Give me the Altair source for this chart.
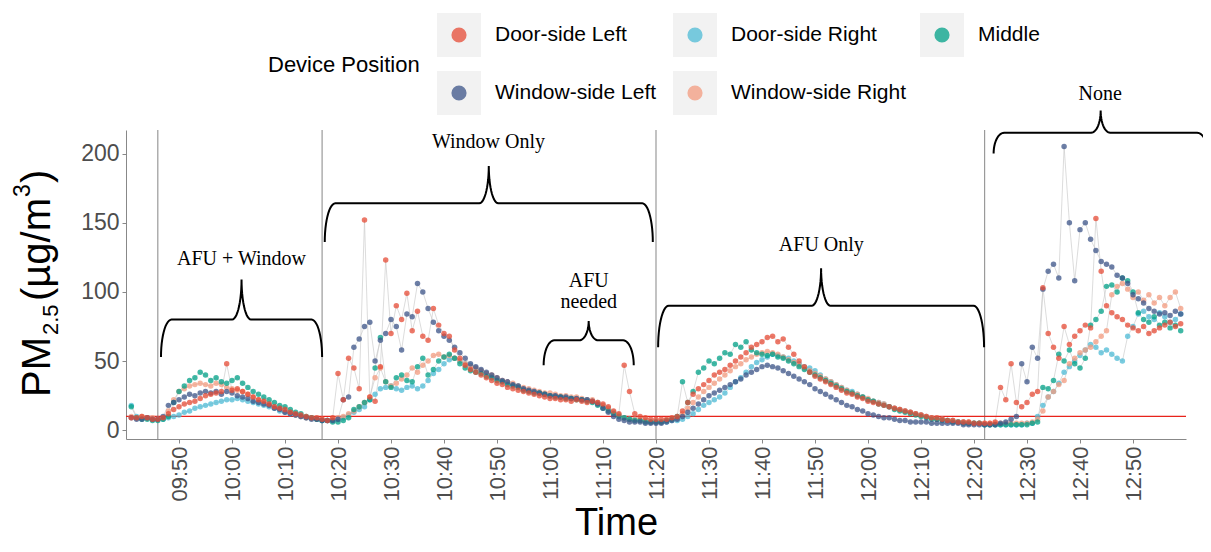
import altair as alt
import pandas as pd
import numpy as np

# ---------------- data ----------------
SERIES = ["Door-side Left", "Door-side Right", "Middle", "Window-side Left", "Window-side Right"]
COLORS = ["#E64B35", "#4DBBD5", "#00A087", "#3C5488", "#F39B7F"]

# sampling grid: minutes since midnight, 09:41 ... 12:59
TIME_MIN = list(range(581, 780))

DOOR_LEFT = [
    9, 9, 10, 9, 8,  8, 9, 12, 15, 17,  19, 20, 21, 23, 25,  26, 27, 28, 48, 29,
    30, 28, 26, 24, 22,  21, 19, 17, 16, 15,  13, 12, 11, 10, 9,  9, 8, 7, 9, 41,
    22, 52, 45, 30, 152,  24, 21, 46, 123, 70,  90, 80, 99, 72, 86,  68, 65, 88, 76, 70,
    68, 58, 52, 47, 44,  42, 40, 38, 36, 34,  33, 31, 30, 29, 28,  27, 26, 25, 24, 23,
    23, 22, 22, 21, 22,  21, 20, 21, 20, 19,  17, 14, 12, 47, 28,  12, 10, 9, 8, 8,
    8, 8, 9, 10, 14,  20, 26, 30, 33, 36,  40, 42, 44, 47, 50,  53, 56, 60, 62, 64,
    67, 68, 64, 66, 60,  55, 50, 46, 42, 39,  37, 35, 33, 31, 29,  27, 26, 24, 23, 21,
    20, 19, 18, 17, 16,  15, 14, 13, 12, 11,  10, 9, 9, 8, 7,  7, 6, 6, 6, 5,
    5, 5, 5, 6, 31,  22, 48, 20, 17, 20,  26, 28, 103, 70, 60,  52, 75, 62, 68, 72,
    76, 74, 153, 115, 90,  85, 82, 80, 76, 74,  72, 75, 70, 72, 74,  76, 78, 75, 77,
]
DOOR_RIGHT = [
    18, 10, 9, 9, 8,  8, 8, 9, 10, 11,  13, 14, 16, 17, 18,  19, 20, 21, 22, 22,
    23, 22, 21, 20, 19,  18, 17, 16, 14, 13,  12, 11, 10, 9, 9,  8, 7, 7, 7, 8,
    9, 11, 13, 15, 17,  22, 26, 30, 31, 32,  30, 29, 31, 32, 30,  32, 36, 41, 44, 48,
    51, 52, 50, 48, 47,  45, 43, 41, 39, 37,  35, 34, 33, 32, 30,  29, 28, 27, 26, 25,
    25, 24, 24, 23, 23,  22, 22, 21, 20, 18,  16, 13, 11, 9, 8,  8, 7, 7, 6, 6,
    6, 6, 7, 7, 8,  10, 12, 15, 18, 20,  22, 24, 27, 31, 35,  38, 42, 46, 49, 51,
    53, 55, 54, 53, 52,  50, 48, 46, 45, 43,  40, 37, 35, 33, 31,  29, 28, 26, 24, 22,
    21, 20, 19, 17, 16,  15, 14, 13, 12, 11,  10, 9, 8, 8, 7,  7, 6, 6, 5, 5,
    5, 4, 4, 4, 4,  4, 4, 4, 4, 5,  5, 10, 18, 24, 28,  34, 42, 46, 50, 54,
    58, 62, 60, 56, 58,  55, 52, 50, 68, 75,  84, 86, 82, 80, 85,  82, 78, 80, 84,
]
MIDDLE = [
    17, 9, 8, 8, 7,  7, 8, 10, 20, 28,  32, 36, 38, 42, 40,  36, 38, 35, 34, 36,
    38, 34, 31, 28, 26,  24, 22, 20, 18, 17,  15, 13, 12, 10, 9,  8, 7, 7, 6, 6,
    7, 9, 15, 17, 20,  22, 45, 67, 35, 31,  38, 40, 36, 35, 46,  52, 40, 44, 50, 53,
    55, 52, 48, 45, 43,  42, 41, 39, 38, 36,  35, 33, 32, 31, 29,  28, 27, 27, 26, 25,
    24, 24, 23, 23, 22,  22, 21, 20, 18, 16,  14, 12, 10, 9, 8,  7, 7, 6, 6, 6,
    6, 7, 8, 10, 35,  20, 28, 42, 45, 50,  48, 52, 56, 55, 62,  60, 64, 58, 56, 55,
    54, 55, 53, 52, 50,  48, 46, 44, 42, 40,  38, 36, 34, 32, 30,  28, 27, 25, 24, 22,
    21, 19, 18, 17, 15,  14, 13, 12, 11, 10,  9, 8, 8, 7, 7,  6, 6, 5, 5, 5,
    5, 4, 4, 4, 4,  4, 4, 4, 4, 4,  5, 6, 31, 30, 36,  55, 50, 58, 48, 45,
    52, 76, 80, 86, 104,  105, 100, 110, 108, 100,  85, 80, 78, 82, 76,  78, 74, 76, 72,
]
WINDOW_LEFT = [
    9, 8, 8, 9, 8,  8, 10, 18, 20, 22,  24, 26, 25, 27, 28,  27, 28, 26, 28, 27,
    25, 24, 23, 21, 20,  19, 18, 16, 15, 13,  12, 11, 10, 9, 8,  8, 7, 7, 7, 8,
    22, 24, 60, 66, 75,  78, 50, 65, 70, 80,  75, 58, 84, 82, 106,  100, 88, 78, 72, 68,
    65, 60, 56, 52, 48,  46, 44, 42, 40, 38,  36, 35, 33, 32, 30,  29, 28, 27, 26, 25,
    25, 24, 24, 23, 23,  22, 22, 21, 19, 16,  13, 10, 8, 7, 6,  6, 6, 5, 5, 5,
    5, 6, 7, 8, 10,  13, 16, 19, 22, 25,  27, 29, 31, 33, 35,  37, 40, 42, 44, 46,
    47, 46, 45, 43, 41,  39, 37, 35, 33, 30,  28, 26, 24, 22, 20,  18, 17, 15, 14, 12,
    11, 10, 9, 9, 8,  7, 7, 6, 6, 6,  6, 5, 5, 5, 5,  5, 5, 4, 4, 4,
    4, 4, 4, 4, 5,  6, 8, 10, 48, 35,  60, 52, 102, 115, 120,  110, 205, 150, 108, 145,
    150, 138, 130, 122, 120,  118, 112, 110, 106, 98,  95, 92, 88, 86, 84,  85, 83, 86, 84,
]
WINDOW_RIGHT = [
    10, 9, 10, 9, 9,  8, 9, 14, 22, 28,  30, 32, 33, 34, 33,  32, 34, 33, 31, 30,
    29, 28, 26, 24, 22,  21, 19, 17, 16, 14,  13, 11, 10, 9, 9,  8, 8, 7, 8, 9,
    10, 12, 14, 17, 20,  24, 38, 45, 35, 32,  34, 37, 40, 45, 42,  47, 50, 54, 55, 53,
    54, 52, 50, 48, 46,  45, 43, 41, 40, 38,  36, 35, 34, 32, 31,  30, 29, 28, 27, 27,
    26, 25, 25, 24, 24,  23, 22, 22, 20, 18,  16, 13, 11, 9, 8,  8, 7, 7, 6, 6,
    6, 7, 8, 9, 12,  16, 20, 24, 28, 31,  34, 37, 40, 43, 46,  48, 51, 53, 55, 56,
    57, 56, 55, 53, 51,  49, 47, 45, 43, 41,  39, 37, 35, 33, 31,  29, 27, 26, 24, 23,
    21, 20, 19, 17, 16,  15, 14, 13, 12, 11,  10, 9, 8, 8, 7,  7, 6, 6, 6, 5,
    5, 5, 5, 5, 5,  5, 5, 5, 5, 5,  6, 8, 14, 24, 28,  33, 36, 48, 52, 56,
    58, 60, 64, 68, 72,  98, 104, 106, 102, 96,  100, 94, 98, 92, 96,  90, 96, 100, 88,
]

PHASE_LINES = [586, 617, 680, 742]
THRESHOLD = [10]

BRACE_X0 = [586.6, 617.5, 658.8, 680.4, 743.7]
BRACE_X1 = [617.0, 679.4, 675.8, 741.9, 784.1]
BRACE_END = [53, 136, 47, 60, 200]
BRACE_BAR = [80, 164, 65, 90, 215]
BRACE_TIP = [109, 191, 79, 117, 231]

LABEL_TEXT = ["AFU + Window", "Window Only", "AFU", "needed", "AFU Only", "None"]
LABEL_X = [601.8, 648.4, 667.3, 667.3, 711.2, 763.8]
LABEL_Y = [124, 208, 108, 93, 134, 243]

X_TICKS = list(range(590, 780, 10))
Y_TICKS = [0, 50, 100, 150, 200]

# ---------------- tables ----------------
values = {
    "Door-side Left": DOOR_LEFT,
    "Door-side Right": DOOR_RIGHT,
    "Middle": MIDDLE,
    "Window-side Left": WINDOW_LEFT,
    "Window-side Right": WINDOW_RIGHT,
}
draw_order = ["Door-side Right", "Window-side Right", "Middle", "Window-side Left", "Door-side Left"]
rows = []
for s in draw_order:
    for t, v in zip(TIME_MIN, values[s]):
        rows.append({"t": t, "pm": v, "series": s})
df = pd.DataFrame(rows)


def brace_points(x0, x1, yd, yh, yt, a=2.0, b=1.8, n=14):
    xm = (x0 + x1) / 2
    ang = np.linspace(0, np.pi / 2, n)
    left = [(x0 + a * (1 - np.cos(p)), yd + (yh - yd) * np.sin(p)) for p in ang]
    mid = [(xm - b + b * np.sin(p), yh + (yt - yh) * (1 - np.cos(p))) for p in ang]
    right_mid = [(x0 + x1 - x, y) for x, y in reversed(mid)]
    right = [(x0 + x1 - x, y) for x, y in reversed(left)]
    return left + mid + right_mid[1:] + right


brace_rows = []
for i in range(len(BRACE_X0)):
    pts = brace_points(BRACE_X0[i], BRACE_X1[i], BRACE_END[i], BRACE_BAR[i], BRACE_TIP[i])
    for k, (x, y) in enumerate(pts):
        brace_rows.append({"bid": i, "seq": k, "bx": x, "by": y})
brace_df = pd.DataFrame(brace_rows)

labels_df = pd.DataFrame({"txt": LABEL_TEXT, "lx": LABEL_X, "ly": LABEL_Y})
phase_df = pd.DataFrame({"t": PHASE_LINES})
thr_df = pd.DataFrame({"y": THRESHOLD})

# legend layout (pixels relative to plot origin)
COL_CX = [333, 569, 816]
ROW_CY = [-95, -37]
leg_df = pd.DataFrame({
    "series": SERIES,
    "cx": [COL_CX[i % 3] for i in range(len(SERIES))],
    "cy": [ROW_CY[i // 3] for i in range(len(SERIES))],
})
leg_df["tx"] = leg_df["cx"] + 36

# ---------------- chart ----------------
FONT = "Liberation Sans"
SERIF = "Liberation Serif"
xs = alt.Scale(domain=[580, 780], nice=False, zero=False)
ys = alt.Scale(domain=[-6.3, 217], nice=False, zero=False)
color = alt.Color("series:N", scale=alt.Scale(domain=SERIES, range=COLORS), legend=None)

x_axis = alt.Axis(
    values=X_TICKS,
    labelExpr="pad('' + floor(datum.value/60), 2, '0', 'left') + ':' + pad('' + (datum.value % 60), 2, '0', 'left')",
    labelAngle=270, labelFontSize=22, labelColor="#4d4d4d", labelFont=FONT,
    tickColor="#888888", tickSize=4, domainColor="#888888", grid=False, labelPadding=3,
    title="Time", titleFontSize=38, titleFont=FONT, titleFontWeight="normal", titleColor="black",
    titleX=490, titleY=95, titleBaseline="alphabetic", titleAlign="center",
)
y_axis = alt.Axis(
    values=Y_TICKS, labelFontSize=23, labelColor="#4d4d4d", labelFont=FONT,
    tickColor="#888888", tickSize=4, domainColor="#888888", grid=False, title=None, labelPadding=3,
)

base = alt.Chart(df)
lines = base.mark_line(strokeWidth=0.7, color="#c8c8c8", opacity=0.9).encode(
    x=alt.X("t:Q", scale=xs, axis=x_axis),
    y=alt.Y("pm:Q", scale=ys, axis=y_axis),
    detail="series:N",
    order="t:Q",
)
points = base.mark_circle(size=30, opacity=0.75).encode(
    x=alt.X("t:Q", scale=xs),
    y=alt.Y("pm:Q", scale=ys),
    color=color,
)
phase = alt.Chart(phase_df).mark_rule(color="#9a9a9a", strokeWidth=1.2).encode(x=alt.X("t:Q", scale=xs))
thr = alt.Chart(thr_df).mark_rule(color="#e8231b", strokeWidth=1.2).encode(y=alt.Y("y:Q", scale=ys))
braces = alt.Chart(brace_df).mark_line(color="black", strokeWidth=2).encode(
    x=alt.X("bx:Q", scale=xs), y=alt.Y("by:Q", scale=ys), detail="bid:N", order="seq:Q"
)
brace_text = alt.Chart(labels_df).mark_text(font=SERIF, fontSize=20, color="black", baseline="middle").encode(
    x=alt.X("lx:Q", scale=xs), y=alt.Y("ly:Q", scale=ys), text="txt:N"
)

# custom legend
leg_bg = alt.Chart(leg_df).mark_square(size=1936, color="#f2f2f2", opacity=1).encode(
    x=alt.X("cx:Q", scale=None), y=alt.Y("cy:Q", scale=None)
)
leg_dot = alt.Chart(leg_df).mark_circle(size=230, opacity=0.75).encode(
    x=alt.X("cx:Q", scale=None), y=alt.Y("cy:Q", scale=None), color=color
)
leg_txt = alt.Chart(leg_df).mark_text(font=FONT, fontSize=21, align="left", baseline="middle", color="black").encode(
    x=alt.X("tx:Q", scale=None), y=alt.Y("cy:Q", scale=None), text="series:N"
)
one = pd.DataFrame({"k": [0]})
leg_title = alt.Chart(one).mark_text(
    text="Device Position", font=FONT, fontSize=22, align="left", baseline="middle", color="black"
).encode(x=alt.value(142), y=alt.value(-65))


# y-axis title  PM2.5 (µg/m3) built from pieces
def ypiece(txt, x, y, size):
    return alt.Chart(one).mark_text(
        text=txt, font=FONT, fontSize=size, angle=270, align="left", baseline="alphabetic", color="black"
    ).encode(x=alt.value(x), y=alt.value(y))


ytitle = [
    ypiece("PM", -76, 267, 40),
    ypiece("2.5", -68, 205, 22),
    ypiece("(µg/m", -76, 171, 40),
    ypiece("3", -96, 67, 23),
    ypiece(")", -76, 53, 40),
]

chart = alt.layer(
    lines, phase, thr, points, braces, brace_text, leg_bg, leg_dot, leg_txt, leg_title, *ytitle
).properties(
    width=1060, height=309,
    background="white",
    autosize=alt.AutoSizeParams(type="none"),
    padding={"left": 118, "top": 122, "right": 17, "bottom": 105},
).configure_view(strokeWidth=0)

chart.save("out.html", embed_options={"renderer": "svg", "actions": False})
